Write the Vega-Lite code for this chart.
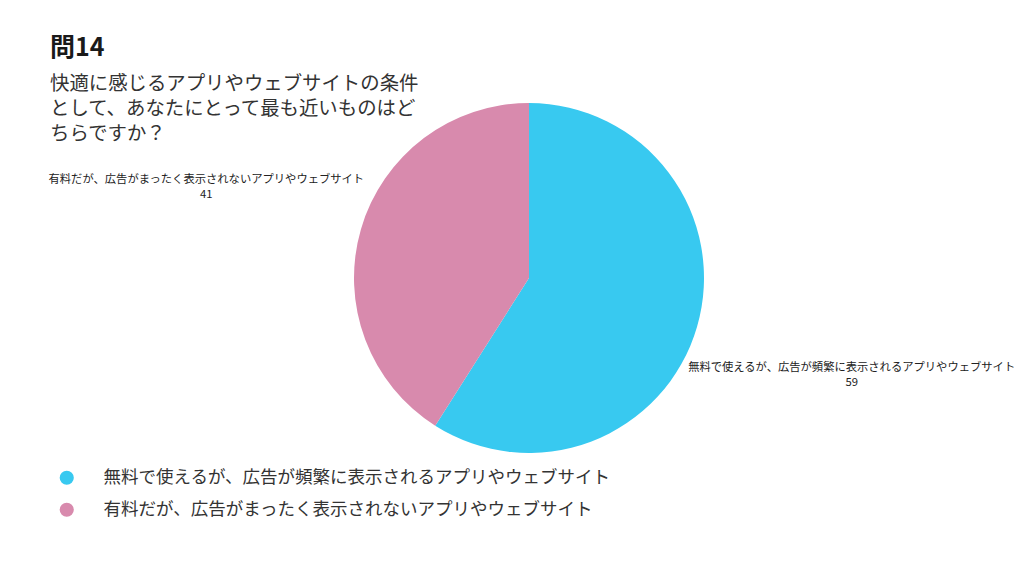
{
  "$schema": "https://vega.github.io/schema/vega-lite/v6.json",
  "width": 958,
  "height": 256,
  "autosize": "none",
  "padding": {"left": 50, "top": 150, "right": 16, "bottom": 170},
  "background": "white",
  "title": {
    "text": "問14",
    "subtitle": ["快適に感じるアプリやウェブサイトの条件", "として、あなたにとって最も近いものはど", "ちらですか？"],
    "anchor": "start",
    "frame": "group",
    "font": "Noto Sans CJK JP",
    "fontSize": 25,
    "fontWeight": "bold",
    "color": "#1a1a1a",
    "subtitleFont": "Noto Sans CJK JP",
    "subtitleFontSize": 19.4,
    "subtitleColor": "#333333",
    "subtitleLineHeight": 25,
    "subtitlePadding": 14,
    "offset": -40
  },
  "data": {
    "values": [
      {"category": "無料で使えるが、広告が頻繁に表示されるアプリやウェブサイト", "value": 59},
      {"category": "有料だが、広告がまったく表示されないアプリやウェブサイト", "value": 41}
    ]
  },
  "encoding": {
    "theta": {"field": "value", "type": "quantitative", "stack": true},
    "order": {"field": "value", "type": "quantitative", "sort": "descending"}
  },
  "layer": [
    {
      "mark": {"type": "arc", "outerRadius": 175},
      "encoding": {
        "color": {
          "field": "category",
          "type": "nominal",
          "sort": ["無料で使えるが、広告が頻繁に表示されるアプリやウェブサイト", "有料だが、広告がまったく表示されないアプリやウェブサイト"],
          "scale": {"range": ["#38c9f0", "#d88aad"]},
          "legend": {
            "title": null,
            "orient": "none",
            "legendX": 8,
            "legendY": 319,
            "symbolType": "circle",
            "symbolSize": 200,
            "symbolStrokeWidth": 0,
            "labelFont": "Noto Sans CJK JP",
            "labelFontSize": 17.5,
            "labelColor": "#333333",
            "labelOffset": 28,
            "labelLimit": 800,
            "rowPadding": 13
          }
        }
      }
    },
    {
      "mark": {"type": "text", "radius": 336, "dy": -4, "font": "Noto Sans CJK JP", "fontSize": 11.3, "color": "#222222"},
      "encoding": {"text": {"field": "category", "type": "nominal"}}
    },
    {
      "mark": {"type": "text", "radius": 336, "dy": 11, "font": "Noto Sans CJK JP", "fontSize": 11.3, "color": "#222222"},
      "encoding": {"text": {"field": "value", "type": "quantitative"}}
    }
  ],
  "config": {"view": {"stroke": null}}
}
